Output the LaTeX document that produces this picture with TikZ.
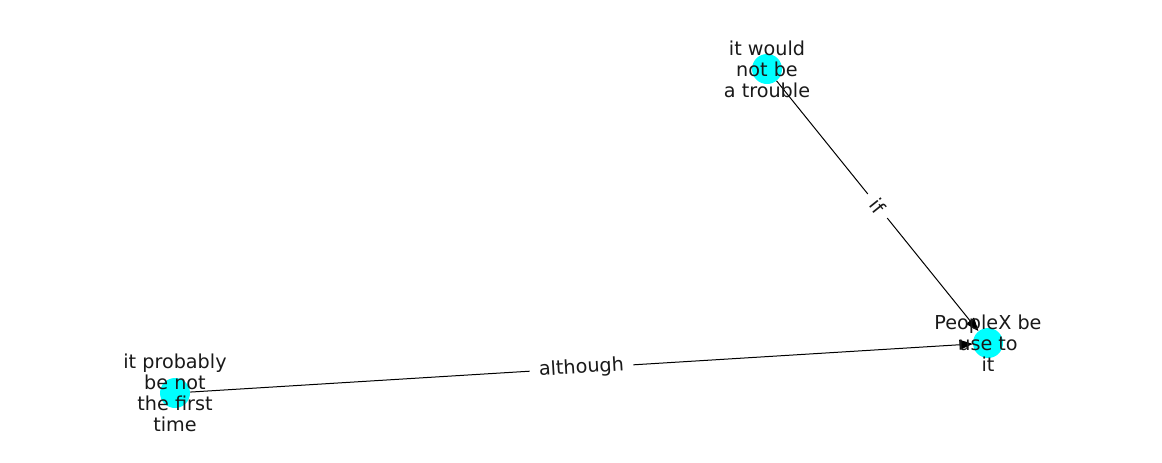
\documentclass[tikz,border=0pt]{standalone}
\usepackage{fontspec}
\setmainfont{DejaVu Sans}
\usetikzlibrary{arrows.meta}
\definecolor{nodecyan}{RGB}{0,255,255}

\begin{document}
\begin{tikzpicture}[x=0.75pt,y=-0.75pt,font=\fontsize{14.4}{15.8}\selectfont,
  nd/.style={circle,fill=nodecyan,minimum size=22.5pt,inner sep=0pt},
  lb/.style={align=center,text=black!90,inner sep=0pt},
  ar/.style={-{Triangle[length=10pt,width=7.5pt]},line width=0.75pt},
  pr/.style={fill=white,text=black!90,inner xsep=7pt,inner ysep=4pt,sloped}]
  \useasboundingbox (0,0) rectangle (1162,462);
  \node[nd] (troub) at (767,69) {};
  \node[nd] (used) at (988,343) {};
  \node[nd] (first) at (175,393) {};
  \draw[ar] (troub) -- node[pr]{if} (used);
  \draw[ar] (first) -- node[pr]{although} (used);
  \node[lb] (ltroub) at (troub) {it would\\not be\\a trouble};
  \node[lb] (lused) at (used) {PeopleX be\\use to\\it};
  \node[lb] (lfirst) at (first) {it probably\\be not\\the first\\time};
\end{tikzpicture}
\end{document}
